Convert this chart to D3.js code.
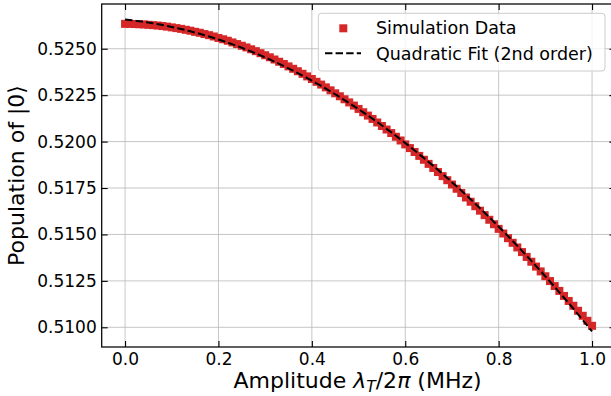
<!DOCTYPE html>
<html>
<head>
<meta charset="utf-8">
<script src="https://cdn.jsdelivr.net/npm/d3@7"></script>
<style>
  body { margin: 0; background: #fff; }
  svg { display: block; font-family: "DejaVu Sans", sans-serif; }
</style>
</head>
<body>
<svg id="chart" width="611" height="396"></svg>
<script>
// amplitude lambda_T / 2pi (MHz)
var amplitudes = [0.00, 0.01, 0.02, 0.03, 0.04, 0.05, 0.06, 0.07, 0.08, 0.09,
  0.10, 0.11, 0.12, 0.13, 0.14, 0.15, 0.16, 0.17, 0.18, 0.19,
  0.20, 0.21, 0.22, 0.23, 0.24, 0.25, 0.26, 0.27, 0.28, 0.29,
  0.30, 0.31, 0.32, 0.33, 0.34, 0.35, 0.36, 0.37, 0.38, 0.39,
  0.40, 0.41, 0.42, 0.43, 0.44, 0.45, 0.46, 0.47, 0.48, 0.49,
  0.50, 0.51, 0.52, 0.53, 0.54, 0.55, 0.56, 0.57, 0.58, 0.59,
  0.60, 0.61, 0.62, 0.63, 0.64, 0.65, 0.66, 0.67, 0.68, 0.69,
  0.70, 0.71, 0.72, 0.73, 0.74, 0.75, 0.76, 0.77, 0.78, 0.79,
  0.80, 0.81, 0.82, 0.83, 0.84, 0.85, 0.86, 0.87, 0.88, 0.89,
  0.90, 0.91, 0.92, 0.93, 0.94, 0.95, 0.96, 0.97, 0.98, 0.99, 1.00];

// population of |0>
var populations = [0.52634, 0.52634, 0.52633, 0.52632, 0.52631, 0.52629, 0.52627, 0.52625, 0.52622, 0.52619,
  0.52615, 0.52611, 0.52607, 0.52602, 0.52597, 0.52591, 0.52586, 0.52579, 0.52573, 0.52566,
  0.52558, 0.52551, 0.52543, 0.52534, 0.52525, 0.52516, 0.52507, 0.52497, 0.52487, 0.52476,
  0.52465, 0.52454, 0.52442, 0.52430, 0.52418, 0.52405, 0.52392, 0.52379, 0.52365, 0.52351,
  0.52337, 0.52322, 0.52307, 0.52292, 0.52276, 0.52260, 0.52244, 0.52228, 0.52211, 0.52194,
  0.52176, 0.52158, 0.52140, 0.52122, 0.52103, 0.52084, 0.52065, 0.52046, 0.52026, 0.52006,
  0.51985, 0.51965, 0.51944, 0.51923, 0.51902, 0.51880, 0.51858, 0.51836, 0.51814, 0.51792,
  0.51769, 0.51746, 0.51723, 0.51699, 0.51676, 0.51652, 0.51628, 0.51604, 0.51579, 0.51555,
  0.51530, 0.51505, 0.51480, 0.51455, 0.51430, 0.51405, 0.51379, 0.51353, 0.51327, 0.51301,
  0.51275, 0.51249, 0.51222, 0.51196, 0.51169, 0.51142, 0.51116, 0.51089, 0.51062, 0.51035, 0.51008];

var xTicks = [0.0, 0.2, 0.4, 0.6, 0.8, 1.0];
var yTicks = [0.5100, 0.5125, 0.5150, 0.5175, 0.5200, 0.5225, 0.5250];

var legendLabels = ["Simulation Data", "Quadratic Fit (2nd order)"];

(function () {
  'use strict';

  var red = "#d62728";
  var margin = { top: 4, left: 101.7, right: 615.4, bottom: 347 };

  var svg = d3.select("#chart");

  // least squares fit of a 2nd order polynomial (normal equations)
  function polyfit2(xs, ys) {
    var s = [0, 0, 0, 0, 0], t = [0, 0, 0];
    for (var i = 0; i < xs.length; i++) {
      var p = 1;
      for (var k = 0; k < 5; k++) { s[k] += p; if (k < 3) t[k] += p * ys[i]; p *= xs[i]; }
    }
    var m = [[s[0], s[1], s[2], t[0]], [s[1], s[2], s[3], t[1]], [s[2], s[3], s[4], t[2]]];
    for (var c = 0; c < 3; c++) {
      for (var r = c + 1; r < 3; r++) {
        var f = m[r][c] / m[c][c];
        for (var j = c; j < 4; j++) m[r][j] -= f * m[c][j];
      }
    }
    var coef = [0, 0, 0];
    for (var r2 = 2; r2 >= 0; r2--) {
      var v = m[r2][3];
      for (var j2 = r2 + 1; j2 < 3; j2++) v -= m[r2][j2] * coef[j2];
      coef[r2] = v / m[r2][r2];
    }
    return coef;
  }

  var coef = polyfit2(amplitudes, populations);
  var fitX = d3.range(0, 201).map(function (i) { return i / 200; });
  var fitData = fitX.map(function (x) {
    return { x: x, y: coef[0] + coef[1] * x + coef[2] * x * x };
  });
  var points = amplitudes.map(function (a, i) { return { x: a, y: populations[i] }; });

  // matplotlib-like autoscale with 5% margins
  var allY = populations.concat(fitData.map(function (d) { return d.y; }));
  var yMin = d3.min(allY), yMax = d3.max(allY), yPad = (yMax - yMin) * 0.05;

  var x = d3.scaleLinear().domain([-0.05, 1.05]).range([margin.left, margin.right]);
  var y = d3.scaleLinear().domain([yMin - yPad, yMax + yPad]).range([margin.bottom, margin.top]);

  // grid
  var grid = svg.append("g").attr("stroke", "#b8b8b8").attr("stroke-width", 0.8);
  xTicks.forEach(function (t) {
    grid.append("line").attr("x1", x(t)).attr("x2", x(t)).attr("y1", margin.top).attr("y2", margin.bottom);
  });
  yTicks.forEach(function (t) {
    grid.append("line").attr("x1", margin.left).attr("x2", margin.right).attr("y1", y(t)).attr("y2", y(t));
  });

  // data markers
  var ms = 8;
  svg.append("g").selectAll("rect")
    .data(points)
    .enter().append("rect")
    .attr("x", function (d) { return x(d.x) - ms / 2; })
    .attr("y", function (d) { return y(d.y) - ms / 2; })
    .attr("width", ms).attr("height", ms)
    .attr("fill", red);

  // fit line
  var line = d3.line().x(function (d) { return x(d.x); }).y(function (d) { return y(d.y); });
  svg.append("path")
    .datum(fitData)
    .attr("d", line)
    .attr("fill", "none")
    .attr("stroke", "#000")
    .attr("stroke-width", 2)
    .attr("stroke-dasharray", "7.4,3.2");

  // axes with inward ticks on all sides
  var tickSize = 6, fs = "17px";
  var bottomAxis = d3.axisBottom(x).tickValues(xTicks).tickFormat(d3.format(".1f")).tickSizeInner(-tickSize).tickSizeOuter(0).tickPadding(6);
  var leftAxis = d3.axisLeft(y).tickValues(yTicks).tickFormat(d3.format(".4f")).tickSizeInner(-tickSize).tickSizeOuter(0).tickPadding(5);
  var topAxis = d3.axisTop(x).tickValues(xTicks).tickFormat("").tickSizeInner(-tickSize).tickSizeOuter(0);
  var rightAxis = d3.axisRight(y).tickValues(yTicks).tickFormat("").tickSizeInner(-tickSize).tickSizeOuter(0);

  function styleAxis(g) {
    g.select(".domain").remove();
    g.selectAll(".tick line").attr("stroke", "#000").attr("stroke-width", 1.1);
    g.selectAll(".tick text").attr("fill", "#000").style("font-size", fs).style("font-family", "DejaVu Sans");
  }

  svg.append("g").attr("transform", "translate(0," + margin.bottom + ")").call(bottomAxis).call(styleAxis);
  svg.append("g").attr("transform", "translate(" + margin.left + ",0)").call(leftAxis).call(styleAxis);
  svg.append("g").attr("transform", "translate(0," + margin.top + ")").call(topAxis).call(styleAxis);
  svg.append("g").attr("transform", "translate(" + margin.right + ",0)").call(rightAxis).call(styleAxis);

  // spines
  svg.append("rect")
    .attr("x", margin.left).attr("y", margin.top)
    .attr("width", margin.right - margin.left).attr("height", margin.bottom - margin.top)
    .attr("fill", "none").attr("stroke", "#000").attr("stroke-width", 1.25);

  // axis labels
  var xl = svg.append("text")
    .attr("x", (margin.left + margin.right) / 2 - 1).attr("y", 388)
    .attr("text-anchor", "middle").style("font-size", "22px");
  xl.append("tspan").text("Amplitude ");
  xl.append("tspan").style("font-style", "italic").text("λ");
  xl.append("tspan").style("font-style", "italic").style("font-size", "15.5px").attr("dy", 4).text("T");
  xl.append("tspan").attr("dy", -4).text("/2");
  xl.append("tspan").style("font-style", "italic").text("π");
  xl.append("tspan").text(" (MHz)");

  svg.append("text")
    .attr("transform", "translate(24," + (margin.top + margin.bottom) / 2 + ") rotate(-90)")
    .attr("text-anchor", "middle").style("font-size", "22px")
    .text("Population of |0⟩");

  // legend
  var lg = svg.append("g");
  lg.append("rect")
    .attr("x", 318.3).attr("y", 13.3).attr("width", 286.7).attr("height", 57.7)
    .attr("rx", 3).attr("fill", "#fff").attr("fill-opacity", 0.8)
    .attr("stroke", "#cccccc").attr("stroke-width", 1);
  lg.append("rect").attr("x", 343.3 - 4).attr("y", 28.3 - 4).attr("width", 8).attr("height", 8).attr("fill", red);
  lg.append("line").attr("x1", 325).attr("x2", 361).attr("y1", 53.3).attr("y2", 53.3)
    .attr("stroke", "#000").attr("stroke-width", 2).attr("stroke-dasharray", "7.4,3.2");
  lg.selectAll("text.lab")
    .data(legendLabels)
    .enter().append("text")
    .attr("class", "lab")
    .attr("x", 376)
    .attr("y", function (d, i) { return 34.3 + i * 25.5; })
    .style("font-size", "17.5px")
    .text(function (d) { return d; });
}());
</script>
</body>
</html>
